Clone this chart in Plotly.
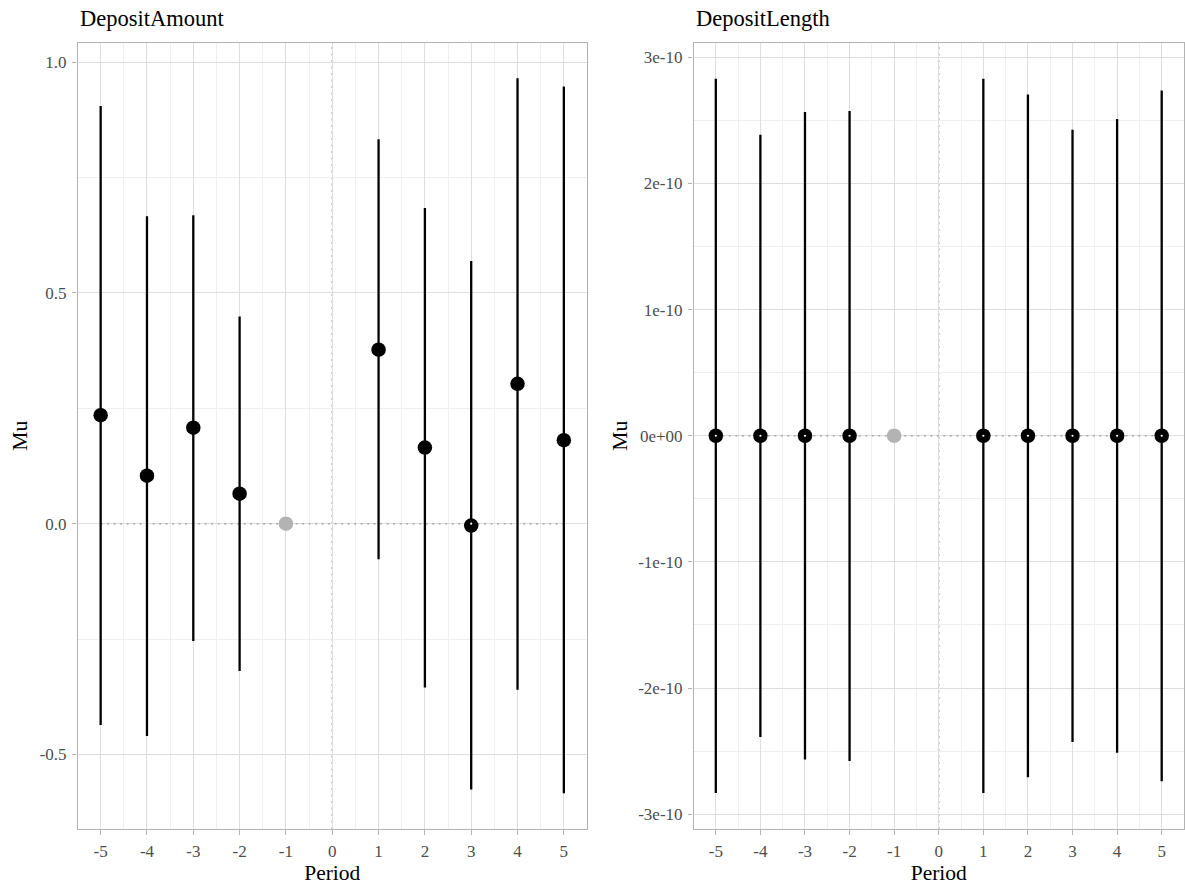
import plotly.graph_objects as go

periods = [-5, -4, -3, -2, -1, 1, 2, 3, 4, 5]

# DepositAmount panel
amt_mu = [0.235, 0.104, 0.208, 0.065, 0.0, 0.377, 0.165, -0.004, 0.303, 0.181]
amt_hi = [0.905, 0.666, 0.668, 0.449, 0.0, 0.833, 0.684, 0.569, 0.965, 0.947]
amt_lo = [-0.436, -0.460, -0.254, -0.319, 0.0, -0.077, -0.355, -0.576, -0.360, -0.584]

# DepositLength panel
len_mu = [0.0] * 10
len_hi = [2.829e-10, 2.386e-10, 2.566e-10, 2.575e-10, 0.0, 2.829e-10, 2.704e-10, 2.426e-10, 2.511e-10, 2.736e-10]
len_lo = [-2.832e-10, -2.388e-10, -2.567e-10, -2.578e-10, 0.0, -2.832e-10, -2.707e-10, -2.427e-10, -2.512e-10, -2.739e-10]

ref_period = -1
x_ticks = [-5, -4, -3, -2, -1, 0, 1, 2, 3, 4, 5]
amt_ticks = [-0.5, 0.0, 0.5, 1.0]
amt_tick_text = ["-0.5", "0.0", "0.5", "1.0"]
len_ticks = [-3e-10, -2e-10, -1e-10, 0.0, 1e-10, 2e-10, 3e-10]
len_tick_text = ["-3e-10", "-2e-10", "-1e-10", "0e+00", "1e-10", "2e-10", "3e-10"]
titles = ["DepositAmount", "DepositLength"]

FONT = "Liberation Serif"
W, H = 1185, 888
REF_COLOR = "#a8a8a8"
REF_DASH = "2px,4.5px"

fig = go.Figure()


def add_panel(mu, hi, lo, xa, ya, zero_dot_periods):
    fig.add_trace(go.Scatter(x=[min(periods), max(periods)], y=[0, 0], mode="lines",
                             line=dict(color=REF_COLOR, width=1.6, dash=REF_DASH),
                             xaxis=xa, yaxis=ya, showlegend=False, hoverinfo="skip"))
    est_x = [p for p in periods if p != ref_period]
    est_mu = [m for p, m in zip(periods, mu) if p != ref_period]
    up = [h - m for p, m, h in zip(periods, mu, hi) if p != ref_period]
    dn = [m - l for p, m, l in zip(periods, mu, lo) if p != ref_period]
    fig.add_trace(go.Scatter(x=est_x, y=est_mu, mode="markers",
                             marker=dict(color="black", size=14.5),
                             error_y=dict(type="data", symmetric=False, array=up, arrayminus=dn,
                                          color="black", thickness=2.3, width=0),
                             xaxis=xa, yaxis=ya, showlegend=False))
    ref_mu = [m for p, m in zip(periods, mu) if p == ref_period]
    fig.add_trace(go.Scatter(x=[ref_period], y=ref_mu, mode="markers",
                             marker=dict(color="#b3b3b3", size=14.5),
                             xaxis=xa, yaxis=ya, showlegend=False))
    zx = [p for p in periods if p in zero_dot_periods]
    fig.add_trace(go.Scatter(x=zx, y=[0] * len(zx), mode="markers",
                             marker=dict(color="white", size=2.2, line=dict(width=0)),
                             xaxis=xa, yaxis=ya, showlegend=False, hoverinfo="skip"))


add_panel(amt_mu, amt_hi, amt_lo, "x", "y", [3])
add_panel(len_mu, len_hi, len_lo, "x2", "y2", [p for p in periods if p != ref_period])

y_dom = [1 - 829 / H, 1 - 42.5 / H]
x1_dom = [77.5 / W, 587 / W]
x2_dom = [693.5 / W, 1184 / W]

axis_common = dict(showline=True, linecolor="#b3b3b3", linewidth=1.1, mirror=True,
                   ticks="outside", ticklen=4.5, tickcolor="#b3b3b3", tickwidth=1,
                   showgrid=True, gridcolor="#dedede", gridwidth=1, zeroline=False,
                   ticklabelstandoff=2,
                   tickfont=dict(family=FONT, size=17, color="#4d4d4d"))

xaxis_common = dict(axis_common, range=[-5.5, 5.5], tickmode="array", tickvals=x_ticks,
                    ticktext=[str(t) for t in x_ticks],
                    minor=dict(showgrid=True, gridcolor="#efefef", gridwidth=1, dtick=0.5, tick0=0),
                    title=dict(text="Period", font=dict(family=FONT, size=21.5, color="black"), standoff=2))

ytitle = lambda s: dict(text="Mu", font=dict(family=FONT, size=21.5, color="black"), standoff=s)

fig.update_layout(
    width=W, height=H, margin=dict(l=0, r=0, t=0, b=0),
    paper_bgcolor="white", plot_bgcolor="white",
    xaxis=dict(xaxis_common, domain=x1_dom, anchor="y"),
    xaxis2=dict(xaxis_common, domain=x2_dom, anchor="y2"),
    yaxis=dict(axis_common, domain=y_dom, anchor="x", range=[-0.6614, 1.0424],
               tickmode="array", tickvals=amt_ticks, ticktext=amt_tick_text,
               minor=dict(showgrid=True, gridcolor="#efefef", gridwidth=1, dtick=0.25, tick0=0),
               title=ytitle(6)),
    yaxis2=dict(axis_common, domain=y_dom, anchor="x2", range=[-3.117e-10, 3.117e-10],
                tickmode="array", tickvals=len_ticks, ticktext=len_tick_text,
                minor=dict(showgrid=True, gridcolor="#efefef", gridwidth=1, dtick=0.5e-10, tick0=0),
                title=ytitle(4)),
    annotations=[
        dict(text=titles[0], x=x1_dom[0], y=1 - 18 / H, xref="paper", yref="paper",
             xanchor="left", yanchor="middle", showarrow=False,
             font=dict(family=FONT, size=22.5, color="black")),
        dict(text=titles[1], x=x2_dom[0], y=1 - 18 / H, xref="paper", yref="paper",
             xanchor="left", yanchor="middle", showarrow=False,
             font=dict(family=FONT, size=22.5, color="black")),
    ],
)

for xr, yr in (("x", "y"), ("x2", "y2")):
    fig.add_shape(type="line", x0=0, x1=0, y0=0, y1=1, xref=xr, yref=f"{yr} domain",
                  line=dict(color=REF_COLOR, width=1.6, dash=REF_DASH), layer="below")

fig.write_html("out.html")
